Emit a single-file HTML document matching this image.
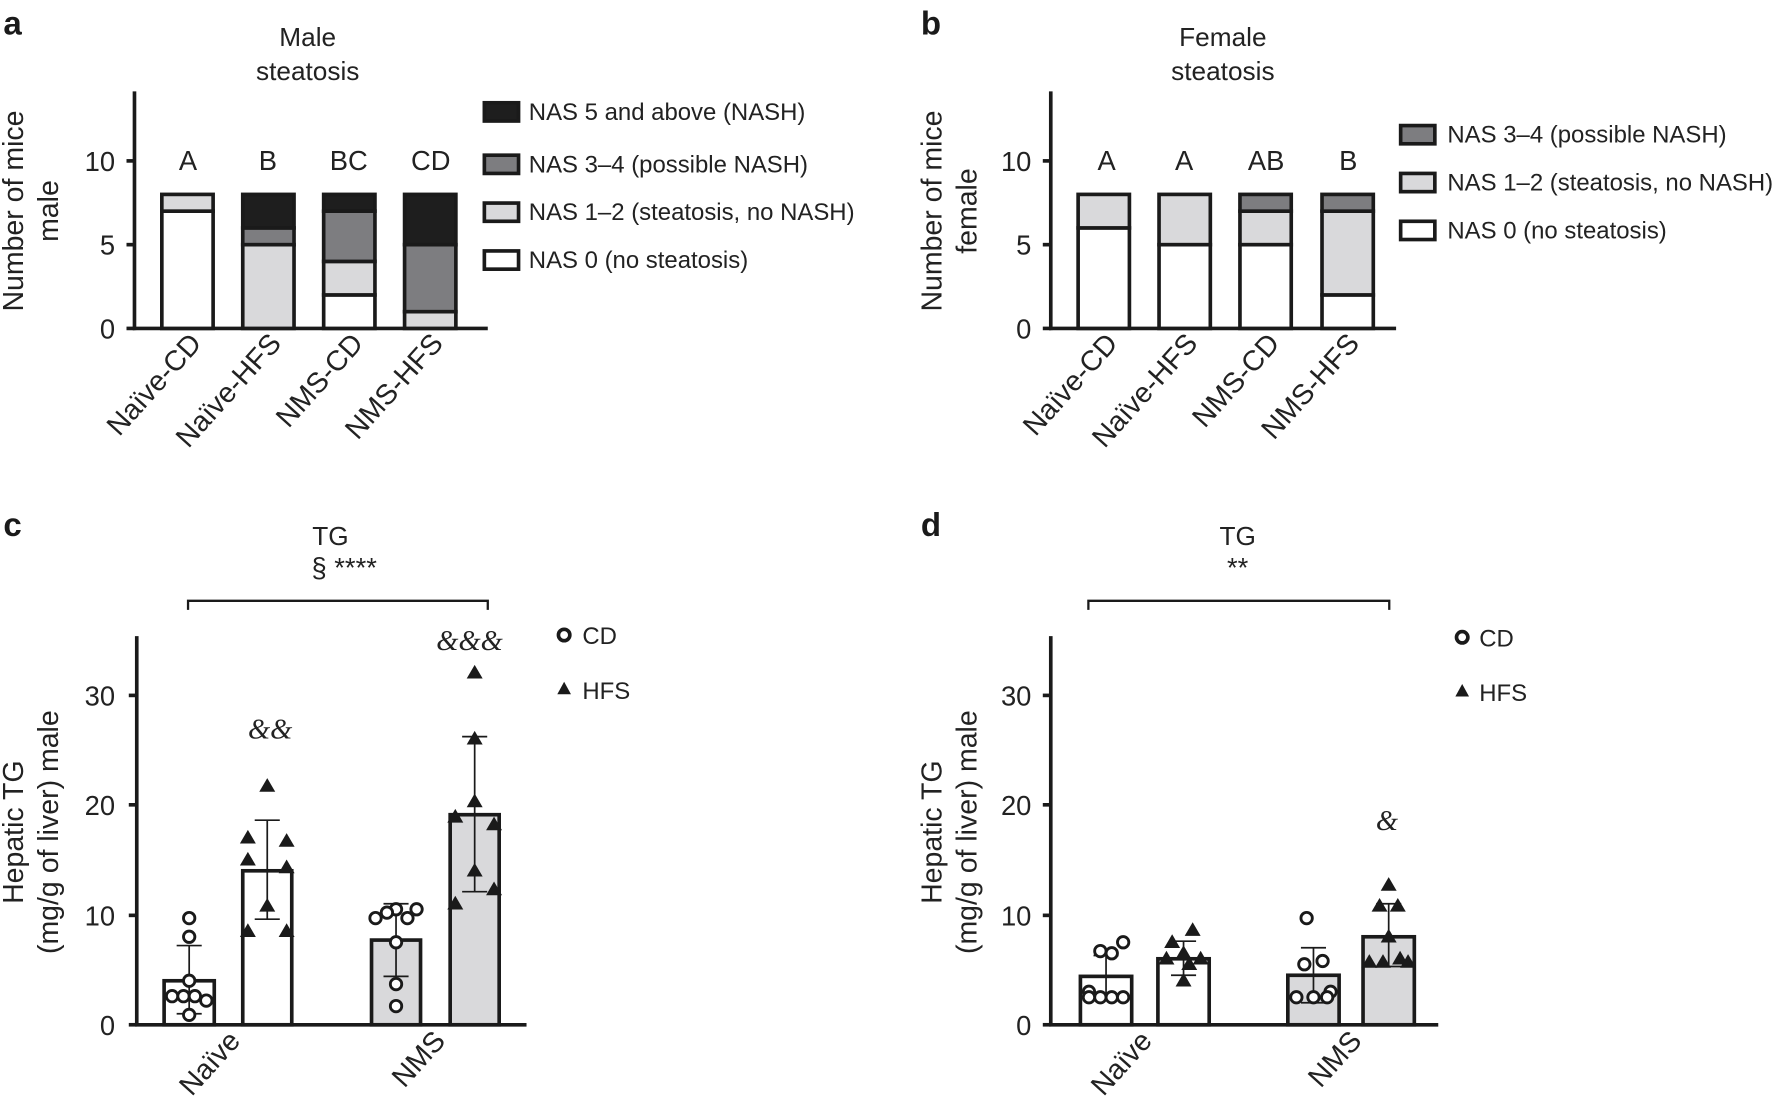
<!DOCTYPE html>
<html><head><meta charset="utf-8"><style>
html,body{margin:0;padding:0;background:#fff;}
svg{display:block;font-family:"Liberation Sans",Arial,sans-serif;}
</style></head><body>
<svg id="s" width="1787" height="1115" viewBox="0 0 1568 978" xmlns="http://www.w3.org/2000/svg">
<g fill="#1a1a1a">
<text x="3" y="30" font-size="29" font-weight="bold">a</text>
<text x="808" y="30" font-size="29" font-weight="bold">b</text>
<text x="3" y="470" font-size="29" font-weight="bold">c</text>
<text x="808" y="470" font-size="29" font-weight="bold">d</text>
</g>
<g font-size="23" fill="#222" text-anchor="middle">
<text x="270" y="40">Male</text><text x="270" y="70">steatosis</text>
<text x="1073" y="40">Female</text><text x="1073" y="70">steatosis</text>
<text x="290" y="478">TG</text><text x="302" y="506" font-size="24">§ ****</text>
<text x="1086" y="478">TG</text><text x="1086" y="506" font-size="24">**</text>
<g font-size="24">
<text x="165" y="149">A</text><text x="235" y="149">B</text><text x="306" y="149">BC</text><text x="378" y="149">CD</text>
<text x="971" y="149">A</text><text x="1039" y="149">A</text><text x="1111" y="149">AB</text><text x="1183" y="149">B</text>
</g>
<g font-size="25">
<text transform="translate(20,185) rotate(-90)">Number of mice</text>
<text transform="translate(51,185) rotate(-90)">male</text>
<text transform="translate(826,185) rotate(-90)">Number of mice</text>
<text transform="translate(857,185) rotate(-90)">female</text>
<text transform="translate(20,730) rotate(-90)">Hepatic TG</text>
<text transform="translate(51,730) rotate(-90)">(mg/g of liver) male</text>
<text transform="translate(826,730) rotate(-90)">Hepatic TG</text>
<text transform="translate(857,730) rotate(-90)">(mg/g of liver) male</text>
</g>
</g>
<g font-size="24" fill="#222" text-anchor="end">
<text x="101" y="150">10</text><text x="101" y="223">5</text><text x="101" y="297">0</text>
<text x="905" y="150">10</text><text x="905" y="223">5</text><text x="905" y="297">0</text>
<text x="101" y="619">30</text><text x="101" y="715">20</text><text x="101" y="812">10</text><text x="101" y="908">0</text>
<text x="905" y="619">30</text><text x="905" y="715">20</text><text x="905" y="812">10</text><text x="905" y="908">0</text>
<g font-size="25">
<text transform="translate(178,302) rotate(-48)">Naïve-CD</text>
<text transform="translate(248,302) rotate(-48)">Naïve-HFS</text>
<text transform="translate(320,302) rotate(-48)">NMS-CD</text>
<text transform="translate(390,302) rotate(-48)">NMS-HFS</text>
<text transform="translate(982,302) rotate(-48)">Naïve-CD</text>
<text transform="translate(1052,302) rotate(-48)">Naïve-HFS</text>
<text transform="translate(1124,302) rotate(-48)">NMS-CD</text>
<text transform="translate(1194,302) rotate(-48)">NMS-HFS</text>
<text transform="translate(212,914) rotate(-48)">Naïve</text>
<text transform="translate(392,914) rotate(-48)">NMS</text>
<text transform="translate(1012,914) rotate(-48)">Naïve</text>
<text transform="translate(1196,914) rotate(-48)">NMS</text>
</g>
</g>
<g font-size="21" fill="#222">
<text x="464" y="105">NAS 5 and above (NASH)</text>
<text x="464" y="151">NAS 3–4 (possible NASH)</text>
<text x="464" y="193">NAS 1–2 (steatosis, no NASH)</text>
<text x="464" y="235">NAS 0 (no steatosis)</text>
<text x="1270" y="125">NAS 3–4 (possible NASH)</text>
<text x="1270" y="167">NAS 1–2 (steatosis, no NASH)</text>
<text x="1270" y="209">NAS 0 (no steatosis)</text>
<text x="511" y="565">CD</text><text x="511" y="613">HFS</text>
<text x="1298" y="567">CD</text><text x="1298" y="615">HFS</text>
</g>
<g font-size="25" fill="#222" font-style="italic" font-family="Liberation Serif,serif" text-anchor="middle">
<text x="237" y="648">&amp;&amp;</text>
<text x="412" y="570">&amp;&amp;&amp;</text>
<text x="1217" y="728">&amp;</text>
</g>
<g id="g" stroke="#1a1a1a" stroke-width="3.2"></g>
</svg>
<script>
var g=document.getElementById('g'),NS='http://www.w3.org/2000/svg';
function el(t,a){var e=document.createElementNS(NS,t);for(var k in a)e.setAttribute(k,a[k]);g.appendChild(e);return e;}
var C={W:'#fff',L:'#d9d9db',D:'#7d7d80',B:'#1e1e1e'};
function axes(x,top,bot,end,ticks){el('line',{x1:x,y1:top,x2:x,y2:bot+1.5});el('line',{x1:x-1.5,y1:bot,x2:end,y2:bot});ticks.forEach(function(y){el('line',{x1:x-7,y1:y,x2:x,y2:y});});}
axes(118,80,288,428,[288,214.5,141]);axes(922,80,288,1225,[288,214.5,141]);
axes(120,558,899,462,[899,803,706,610]);axes(922,558,899,1262,[899,803,706,610]);
function stack(x,segs){var y=288;segs.forEach(function(s){var h=s[1]*14.7;el('rect',{x:x,y:y-h,width:45,height:h,fill:C[s[0]]});y-=h;});}
stack(142,[['W',7],['L',1]]);stack(213,[['L',5],['D',1],['B',2]]);stack(284,[['W',2],['L',2],['D',3],['B',1]]);stack(355,[['L',1],['D',4],['B',3]]);
stack(946,[['W',6],['L',2]]);stack(1017,[['W',5],['L',3]]);stack(1088,[['W',5],['L',2],['D',1]]);stack(1160,[['W',2],['L',5],['D',1]]);
[[425,98,'B'],[425,144,'D'],[425,186,'L'],[425,228,'W'],[1229,118,'D'],[1229,160,'L'],[1229,202,'W']].forEach(function(l){el('rect',{x:l[0],y:l[1]-8,width:30,height:16,fill:C[l[2]]});});
el('path',{d:'M165 535V527H428V535',fill:'none','stroke-width':2});el('path',{d:'M955 535V527H1219V535',fill:'none','stroke-width':2});
el('circle',{cx:495,cy:557,r:5,fill:'#fff'});el('path',{d:'M495 598l6 11h-12z',fill:'#1a1a1a','stroke-width':0});
el('circle',{cx:1283,cy:559,r:5,fill:'#fff'});el('path',{d:'M1283 600l6 11h-12z',fill:'#1a1a1a','stroke-width':0});
function bar(x,w,mean,lo,hi,fill,pts,tri){var Y=function(v){return 899-v*9.65;};
el('rect',{x:x,y:Y(mean),width:w,height:mean*9.65,fill:fill});
var cx=x+w/2;el('line',{x1:cx,y1:Y(lo),x2:cx,y2:Y(hi),'stroke-width':1.5});
el('line',{x1:cx-11,y1:Y(lo),x2:cx+11,y2:Y(lo),'stroke-width':1.5});el('line',{x1:cx-11,y1:Y(hi),x2:cx+11,y2:Y(hi),'stroke-width':1.5});
pts.forEach(function(p){var px=cx+p[1],py=Y(p[0]);if(tri)el('path',{d:'M'+px+' '+(py-7)+'l7 12h-14z',fill:'#1a1a1a','stroke-width':0});else el('circle',{cx:px,cy:py,r:5,fill:'#fff','stroke-width':2.5});});}
bar(144,44,4,1,7.2,'#fff',[[9.7,0],[8,0],[4,0],[2.6,-15],[2.6,-5],[2.6,5],[2.2,15],[0.9,0]],0);
bar(213,43,14,9.6,18.6,'#fff',[[21.7,0],[17,-17],[16.7,17],[15,-17],[14.3,17],[10.8,0],[8.5,-17],[8.5,17]],1);
bar(326,43,7.7,4.4,11,'#d9d9db',[[10.5,0],[10.5,18],[10.2,-8],[9.7,-18],[9.7,10],[7.5,0],[3.7,0],[1.7,0]],0);
bar(395,43,19.1,12.1,26.2,'#d9d9db',[[32,0],[26,0],[20.3,0],[18.9,-17],[18.2,17],[14,0],[12.3,17],[11,-17]],1);
bar(948,45,4.4,2.5,6.3,'#fff',[[7.5,15],[6.7,-5],[6.5,5],[3,-15],[2.5,-5],[2.5,5],[2.5,15],[2.5,-15]],0);
bar(1016,45,6,4.5,7.6,'#fff',[[8.6,8],[7.5,-10],[6.5,0],[6,-15],[6,15],[5.5,5],[4,0]],1);
bar(1130,45,4.5,2,7,'#d9d9db',[[9.7,-6],[5.8,8],[5.5,-8],[3,15],[2.5,-15],[2.5,0],[2.5,12]],0);
bar(1196,45,8,5.3,11,'#d9d9db',[[12.7,0],[10.8,-8],[10.8,8],[8,0],[6,10],[5.7,-17],[5.7,-5],[5.7,17]],1);
</script>
</body></html>
